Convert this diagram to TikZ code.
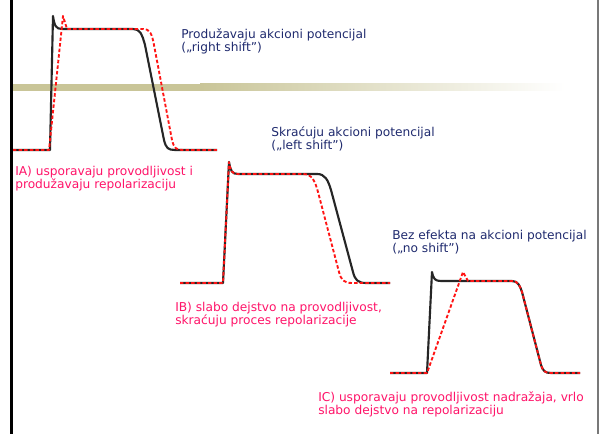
\documentclass[tikz,border=0pt]{standalone}
\usepackage{fontspec}
\setmainfont{DejaVu Sans}
\definecolor{navytxt}{RGB}{31,42,110}
\definecolor{pinktxt}{RGB}{255,20,105}
\definecolor{bandc}{RGB}{201,197,152}
\definecolor{apred}{RGB}{255,20,20}
\definecolor{rulegrey}{RGB}{120,120,120}
\tikzset{
  apblack/.style={draw=black!85, line width=1.6pt, line join=round},
  apred/.style={draw=apred, line width=1.4pt, dash pattern=on 2.6pt off 1.6pt, line join=round},
  aptxt/.style={anchor=base west, inner sep=0pt, font=\fontsize{9.15}{11}\selectfont},
  bluetxt/.style={aptxt, text=navytxt},
  redtxt/.style={aptxt, text=pinktxt}
}
\begin{document}
\begin{tikzpicture}[x=0.75pt,y=-0.75pt]
\useasboundingbox (0,0) rectangle (604,434);
\fill[white] (0,0) rectangle (604,434);
% band
\fill[bandc] (12,84) rectangle (200,91);
\shade[left color=bandc, right color=white] (200,84) rectangle (565,91);
% slide borders
\fill[black] (10,0) rectangle (13,434);
\fill[rulegrey] (597,0) rectangle (599,434);

% IA curve
\draw[apblack] (13,150) -- (50,150) -- (53,16) .. controls (54.5,26) and (56,29) .. (62,29) -- (133,29)
  .. controls (140,29) and (142,34) .. (145,45) -- (164,140) .. controls (166,148) and (168,150) .. (175,150) -- (217,150);
\draw[apred] (13,150) -- (49,150) -- (63,16) -- (67,29) -- (143,29)
  .. controls (150,29) and (152,34) .. (154,45) -- (172,140) .. controls (174,148) and (176,150) .. (183,150) -- (217,150);

% IB curve
\draw[apblack] (180,283) -- (223,283) -- (229,162) .. controls (230.5,171) and (232,174) .. (238,174) -- (317,174)
  .. controls (325,174) and (328,180) .. (331,190) -- (353,272) .. controls (355,280) and (358,283) .. (366,283) -- (390,283);
\draw[apred] (180,283) -- (223,283) -- (229,162) .. controls (230.5,171) and (232,174) .. (238,174) -- (303,174)
  .. controls (312,174) and (315,181) .. (318,192) -- (339,272) .. controls (341,280) and (344,283) .. (352,283) -- (390,283);

% IC curve
\draw[apblack] (390,373) -- (427,373) -- (432,272) .. controls (433.5,279) and (435,281) .. (441,281) -- (512,281)
  .. controls (518,281) and (520,286) .. (522,292) -- (541,365) .. controls (543,371) and (545,373) .. (551,373) -- (580,373);
\draw[apred] (390,373) -- (427,373) -- (463,272) -- (468,281) -- (512,281)
  .. controls (518,281) and (520,286) .. (522,292) -- (541,365) .. controls (543,371) and (545,373) .. (551,373) -- (580,373);

% texts
\node[bluetxt] (r1) at (181,39) {Produžavaju akcioni potencijal};
\node[bluetxt] (r2) at (181,52) {(„right shift")};
\node[bluetxt] (l1) at (271,137) {Skraćuju akcioni potencijal};
\node[bluetxt] (l2) at (271,150) {(„left shift")};
\node[bluetxt] (n1) at (392,240) {Bez efekta na akcioni potencijal};
\node[bluetxt] (n2) at (392,253) {(„no shift")};
\node[redtxt] (a1) at (15,176) {IA) usporavaju provodljivost i};
\node[redtxt] (a2) at (15,189) {produžavaju repolarizaciju};
\node[redtxt] (b1) at (175,312) {IB) slabo dejstvo na provodljivost,};
\node[redtxt] (b2) at (175,325) {skraćuju proces repolarizacije};
\node[redtxt] (c1) at (318,402) {IC) usporavaju provodljivost nadražaja, vrlo};
\node[redtxt] (c2) at (318,415) {slabo dejstvo na repolarizaciju};
\end{tikzpicture}
\end{document}
